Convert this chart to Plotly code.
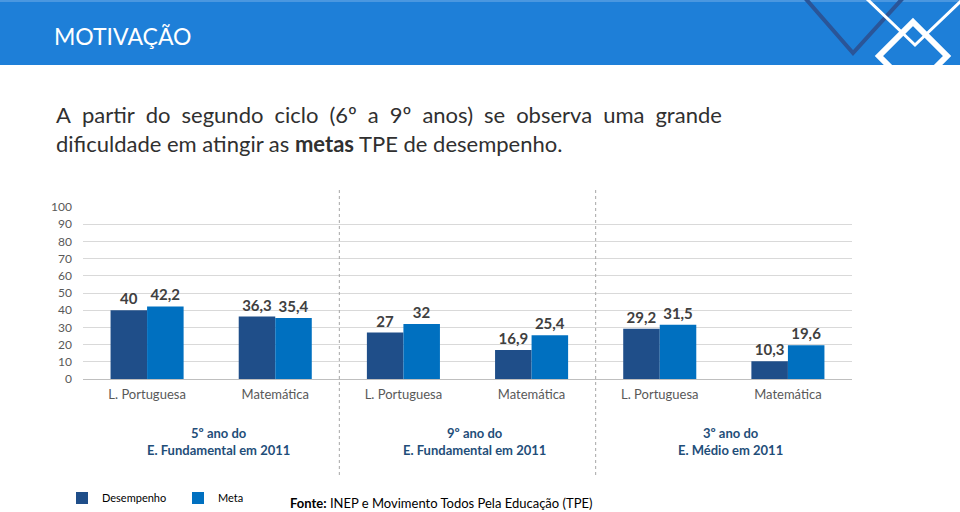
import plotly.graph_objects as go

# ---- data ----
categories = ["L. Portuguesa", "Matemática", "L. Portuguesa", "Matemática", "L. Portuguesa", "Matemática"]
desempenho = [40, 36.3, 27, 16.9, 29.2, 10.3]
meta = [42.2, 35.4, 32, 25.4, 31.5, 19.6]
groups = ["5º ano do<br>E. Fundamental em 2011",
          "9º ano do<br>E. Fundamental em 2011",
          "3º ano do<br>E. Médio em 2011"]
y_ticks = list(range(0, 101, 10))

W, H = 960, 512
L, R, T, B = 83, 852, 207, 379
FONT = "Lato"

def px(x):
    return (x - L) / (R - L)

def py(y):
    return (B - y) / (B - T)

def fmt(v):
    return ("%g" % v).replace(".", ",")

xs = list(range(len(categories)))

fig = go.Figure()
fig.add_trace(go.Bar(
    x=xs, y=desempenho, name="Desempenho",
    marker=dict(color="#1f4e89", line=dict(width=0)),
    text=[fmt(v) for v in desempenho], textposition="outside",
    textfont=dict(family=FONT, size=15, color="#404040", weight="bold"),
    cliponaxis=False,
))
fig.add_trace(go.Bar(
    x=xs, y=meta, name="Meta",
    marker=dict(color="#0070c0", line=dict(width=0)),
    text=[fmt(v) for v in meta], textposition="outside",
    textfont=dict(family=FONT, size=15, color="#404040", weight="bold"),
    cliponaxis=False,
))

shapes = []
shapes.append(dict(type="rect", xref="paper", yref="paper", x0=px(-2), x1=px(W + 2), y0=py(65), y1=py(2),
                   fillcolor="#1e7fd8", line=dict(width=0), layer="below"))
shapes.append(dict(type="rect", xref="paper", yref="paper", x0=px(-2), x1=px(W + 2), y0=py(2), y1=py(-2),
                   fillcolor="#4a97e0", line=dict(width=0), layer="below"))

def path(pts):
    return "M " + " L ".join("%f,%f" % (px(a), py(b)) for a, b in pts)

shapes.append(dict(type="path", xref="paper", yref="paper", path=path([(805, -2), (853, 53), (903, -2)]),
                   line=dict(color="#2a5598", width=4)))
shapes.append(dict(type="path", xref="paper", yref="paper", path=path([(866, -2), (915, 45), (962, 0)]),
                   line=dict(color="white", width=3)))
shapes.append(dict(type="path", xref="paper", yref="paper",
                   path=path([(913, 22), (947, 56), (913, 90), (879, 56)]) + " Z",
                   line=dict(color="white", width=6)))
for xv in (1.5, 3.5):
    shapes.append(dict(type="line", xref="x", yref="paper", x0=xv, x1=xv, y0=py(190), y1=py(475),
                       line=dict(color="#a6a6a6", width=1, dash="dot")))

line1_words = ["A", "partir", "do", "segundo", "ciclo", "(6º", "a", "9º", "anos)", "se", "observa", "uma", "grande"]
line1 = "\u2002".join(line1_words)

annotations = []
annotations.append(dict(xref="paper", yref="paper", x=px(52), y=py(36), xanchor="left", yanchor="middle",
                        text="MOTIVAÇÃO", showarrow=False,
                        font=dict(family=FONT, size=23, color="white")))
annotations.append(dict(xref="paper", yref="paper", x=px(54), y=py(115), xanchor="left", yanchor="middle",
                        text=line1,
                        showarrow=False, font=dict(family=FONT, size=22, color="#303030")))
annotations.append(dict(xref="paper", yref="paper", x=px(54), y=py(143), xanchor="left", yanchor="middle",
                        text="dificuldade em atingir as <b>metas</b> TPE de desempenho.",
                        showarrow=False, font=dict(family=FONT, size=22, color="#303030")))
for i, g in enumerate(groups):
    annotations.append(dict(xref="x", yref="paper", x=2 * i + 0.5, y=py(441), xanchor="center", yanchor="middle",
                            xshift=7, text=g, showarrow=False,
                            font=dict(family=FONT, size=13, color="#1f4e79", weight="bold")))
annotations.append(dict(xref="paper", yref="paper", x=px(288), y=py(503), xanchor="left", yanchor="middle",
                        text="<b>Fonte:</b> INEP e Movimento Todos Pela Educação (TPE)", showarrow=False,
                        font=dict(family=FONT, size=13, color="black")))

fig.update_layout(
    width=W, height=H,
    margin=dict(l=L, r=W - R, t=T, b=H - B, autoexpand=False),
    paper_bgcolor="white", plot_bgcolor="white",
    barmode="group", bargap=0.43, bargroupgap=0,
    shapes=shapes, annotations=annotations,
    showlegend=True,
    legend=dict(orientation="h", x=px(62), y=py(498), xanchor="left", yanchor="middle",
                font=dict(family=FONT, size=11, color="black"),
                entrywidth=71, entrywidthmode="pixels", bgcolor="rgba(0,0,0,0)"),
    xaxis=dict(range=[-0.5, 5.5], tickmode="array", tickvals=xs, ticktext=categories,
               showgrid=False, zeroline=False, showline=False, ticks="",
               tickfont=dict(family=FONT, size=13, color="#595959"), ticklabelstandoff=6),
    yaxis=dict(range=[0, 100], tickmode="array", tickvals=y_ticks,
               showgrid=True, gridcolor="#d9d9d9", gridwidth=1,
               zeroline=True, zerolinecolor="#bfbfbf", zerolinewidth=1,
               showline=False, ticks="",
               tickfont=dict(family=FONT, size=12, color="#595959"), ticklabelstandoff=10),
    font=dict(family=FONT),
)

fig.write_html("out.html", config={"displayModeBar": False},
               post_script="document.body.style.margin='0';")
